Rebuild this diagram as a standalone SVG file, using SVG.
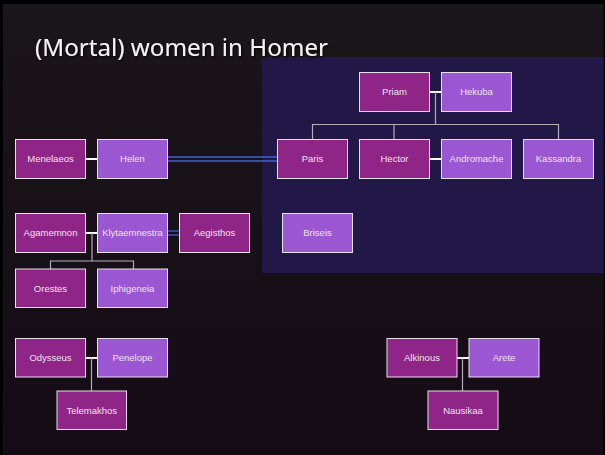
<svg xmlns="http://www.w3.org/2000/svg" width="605" height="455" viewBox="0 0 605 455">
<defs>
<style>
.m{fill:#8f2587;stroke:#e6e0ea;stroke-width:1}
.f{fill:#9b57d2;stroke:#e6e0ea;stroke-width:1}
.t{font-family:"Liberation Sans",Arial,sans-serif;font-size:9.5px;fill:#f0e2f0;text-anchor:middle}
.mar{stroke:#ffffff;stroke-width:2;fill:none}
.kid{stroke:#b4acb8;stroke-width:1.2;fill:none}
.aff{stroke:#3f63d0;stroke-width:1.3;fill:none}
</style>
<linearGradient id="bg" x1="0" y1="0" x2="0" y2="1">
<stop offset="0" stop-color="#1b161b"/>
<stop offset="1" stop-color="#150b15"/>
</linearGradient>
<filter id="sh" x="-5%" y="-20%" width="110%" height="150%">
<feDropShadow dx="1" dy="1.5" stdDeviation="1" flood-color="#000" flood-opacity="0.9"/>
</filter>
</defs>
<rect x="0" y="0" width="605" height="455" fill="#000"/>
<rect x="3" y="4" width="600.5" height="451" fill="url(#bg)"/>
<rect x="262" y="57" width="341.5" height="216" fill="#211847"/>
<text x="35" y="56" font-family="'Noto Sans','Open Sans',sans-serif" font-size="24" fill="#f4f2f4" filter="url(#sh)" textLength="293" lengthAdjust="spacingAndGlyphs">(Mortal) women in Homer</text>
<g id="connectors">
<line class="mar" x1="429" y1="92" x2="441" y2="92"/>
<path class="kid" d="M435.5 92V124.5M312.5 139V124.5H558.5V139M394 124.5V139"/>
<line class="mar" x1="429" y1="159" x2="441" y2="159"/>
<line class="mar" x1="85" y1="159" x2="97" y2="159"/>
<line class="aff" x1="167" y1="157" x2="277" y2="157"/>
<line class="aff" x1="167" y1="161" x2="277" y2="161"/>
<line class="mar" x1="85" y1="233" x2="97" y2="233"/>
<path class="kid" d="M92 233V261M50.5 269V261H133.5V269"/>
<line class="aff" x1="167" y1="231" x2="179" y2="231"/>
<line class="aff" x1="167" y1="235" x2="179" y2="235"/>
<line class="mar" x1="85" y1="358" x2="97" y2="358"/>
<path class="kid" d="M91.5 358V391"/>
<line class="mar" x1="457" y1="358" x2="469" y2="358"/>
<path class="kid" d="M462.5 358V391"/>
</g>
<g id="priam"><rect class="m" x="359.5" y="72.5" width="70" height="39"/><text class="t" x="394.5" y="95.3">Priam</text></g>
<g id="hekuba"><rect class="f" x="441.5" y="72.5" width="70" height="39"/><text class="t" x="476.5" y="95.3">Hekuba</text></g>
<g id="paris"><rect class="m" x="277.5" y="139.5" width="70" height="39"/><text class="t" x="312.5" y="162.3">Paris</text></g>
<g id="hector"><rect class="m" x="359.5" y="139.5" width="70" height="39"/><text class="t" x="394.5" y="162.3">Hector</text></g>
<g id="andromache"><rect class="f" x="441.5" y="139.5" width="70" height="39"/><text class="t" x="476.5" y="162.3">Andromache</text></g>
<g id="kassandra"><rect class="f" x="523.5" y="139.5" width="70" height="39"/><text class="t" x="558.5" y="162.3">Kassandra</text></g>
<g id="briseis"><rect class="f" x="282.5" y="213.5" width="70" height="39"/><text class="t" x="317.5" y="236.3">Briseis</text></g>
<g id="menelaeos"><rect class="m" x="15.5" y="139.5" width="70" height="39"/><text class="t" x="50.5" y="162.3">Menelaeos</text></g>
<g id="helen"><rect class="f" x="97.5" y="139.5" width="70" height="39"/><text class="t" x="132.5" y="162.3">Helen</text></g>
<g id="agamemnon"><rect class="m" x="15.5" y="213.5" width="70" height="39"/><text class="t" x="50.5" y="236.3">Agamemnon</text></g>
<g id="klytaemnestra"><rect class="f" x="97.5" y="213.5" width="70" height="39"/><text class="t" x="132.5" y="236.3">Klytaemnestra</text></g>
<g id="aegisthos"><rect class="m" x="179.5" y="213.5" width="70" height="39"/><text class="t" x="214.5" y="236.3">Aegisthos</text></g>
<g id="orestes"><rect class="m" x="15.5" y="269" width="70" height="38.5"/><text class="t" x="50.5" y="291.8">Orestes</text></g>
<g id="iphigeneia"><rect class="f" x="97.5" y="269" width="70" height="38.5"/><text class="t" x="132.5" y="291.8">Iphigeneia</text></g>
<g id="odysseus"><rect class="m" x="15.5" y="338.5" width="70" height="38.5"/><text class="t" x="50.5" y="361.3">Odysseus</text></g>
<g id="penelope"><rect class="f" x="97.5" y="338.5" width="70" height="38.5"/><text class="t" x="132.5" y="361.3">Penelope</text></g>
<g id="telemakhos"><rect class="m" x="57" y="391" width="69.5" height="38.5"/><text class="t" x="91.75" y="413.8">Telemakhos</text></g>
<g id="alkinous"><rect class="m" x="387" y="338.5" width="70" height="38.5"/><text class="t" x="422" y="361.3">Alkinous</text></g>
<g id="arete"><rect class="f" x="469" y="338.5" width="70" height="38.5"/><text class="t" x="504" y="361.3">Arete</text></g>
<g id="nausikaa"><rect class="m" x="428" y="391" width="70" height="38.5"/><text class="t" x="463" y="413.8">Nausikaa</text></g>
</svg>
